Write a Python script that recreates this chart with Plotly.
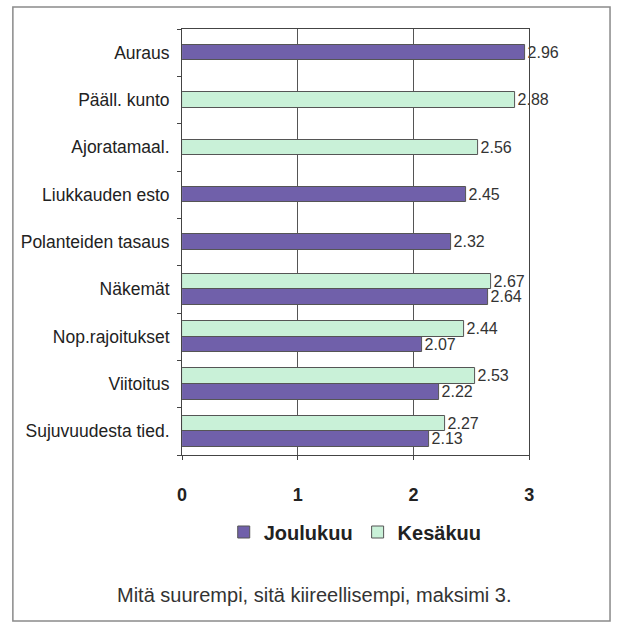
import plotly.graph_objects as go

# Survey categories (top to bottom) and urgency scores per month
categories = [
    "Auraus",
    "Pääll. kunto",
    "Ajoratamaal.",
    "Liukkauden esto",
    "Polanteiden tasaus",
    "Näkemät",
    "Nop.rajoitukset",
    "Viitoitus",
    "Sujuvuudesta tied.",
]
joulukuu = [2.96, None, None, 2.45, 2.32, 2.64, 2.07, 2.22, 2.13]
kesakuu = [None, 2.88, 2.56, None, None, 2.67, 2.44, 2.53, 2.27]
x_ticks = [0, 1, 2, 3]
caption = "Mitä suurempi, sitä kiireellisempi, maksimi 3."

W, H = 617, 623
BAR_W = 0.33
FONT = "Liberation Sans, Arial, sans-serif"
PURPLE = "#7060aa"
GREEN = "#c9f1d8"
EDGE = "#555555"


def series_positions(values, other, upper):
    """Bars sit in the middle of the row unless both months have a value."""
    ys, xs = [], []
    for i, (v, o) in enumerate(zip(values, other)):
        if v is None:
            continue
        shift = 0.0
        if o is not None:
            shift = -BAR_W / 2 if upper else BAR_W / 2
        ys.append(i + shift)
        xs.append(v)
    return xs, ys


jx, jy = series_positions(joulukuu, kesakuu, upper=False)
kx, ky = series_positions(kesakuu, joulukuu, upper=True)

fig = go.Figure()
for name, xs, ys, color in [
    ("Joulukuu", jx, jy, PURPLE),
    ("Kesäkuu", kx, ky, GREEN),
]:
    fig.add_trace(
        go.Bar(
            name=name,
            x=xs,
            y=ys,
            orientation="h",
            width=BAR_W,
            marker=dict(color=color, line=dict(color=EDGE, width=1)),
            text=[f"{v:.2f}" for v in xs],
            textposition="outside",
            constraintext="none",
            cliponaxis=False,
            textfont=dict(family=FONT, size=16, color="#333333"),
        )
    )

fig.update_layout(
    width=W,
    height=H,
    margin=dict(l=0, r=0, t=0, b=0),
    paper_bgcolor="white",
    plot_bgcolor="white",
    barmode="overlay",
    bargap=0,
    font=dict(family=FONT, color="#222222"),
    xaxis=dict(
        domain=[180 / W, 533 / W],
        range=[0, 3],
        tickvals=x_ticks,
        ticktext=[str(t) for t in x_ticks],
        tickfont=dict(family=FONT, size=18, color="#222222", weight="bold"),
        ticks="outside",
        ticklen=4,
        tickcolor="#444444",
        ticklabelstandoff=19,
        showgrid=True,
        gridcolor="#555555",
        gridwidth=1,
        showline=True,
        linecolor="#444444",
        linewidth=1,
        mirror=True,
        zeroline=False,
    ),
    yaxis=dict(
        domain=[1 - 455 / H, 1 - 29 / H],
        range=[len(categories) - 0.5, -0.5],
        tickmode="array",
        tickvals=list(range(len(categories))),
        ticktext=categories,
        ticks="",
        tickfont=dict(family=FONT, size=17.5, color="#222222"),
        ticklabelstandoff=8,
        minor=dict(
            tickmode="linear",
            tick0=0.5,
            dtick=1,
            ticks="outside",
            ticklen=4,
            tickcolor="#444444",
            showgrid=False,
        ),
        showgrid=False,
        showline=True,
        linecolor="#444444",
        linewidth=1,
        mirror=True,
        zeroline=False,
    ),
    legend=dict(
        orientation="h",
        x=356 / W,
        xanchor="center",
        y=1 - 532 / H,
        yanchor="middle",
        font=dict(family=FONT, size=20, color="#222222", weight="bold"),
        itemwidth=30,
        bgcolor="rgba(0,0,0,0)",
    ),
    shapes=[
        dict(
            type="rect",
            xref="paper",
            yref="paper",
            x0=8 / W,
            x1=615 / W,
            y0=1 - 621 / H,
            y1=1 - 7 / H,
            line=dict(color="#8a8a8a", width=1.5),
            fillcolor="rgba(0,0,0,0)",
            layer="below",
        )
    ],
    annotations=[
        dict(
            text=caption,
            xref="paper",
            yref="paper",
            x=112 / W,
            y=1 - 595 / H,
            xanchor="left",
            yanchor="middle",
            showarrow=False,
            font=dict(family=FONT, size=20, color="#333333"),
        )
    ],
)

fig.write_html("out.html")
